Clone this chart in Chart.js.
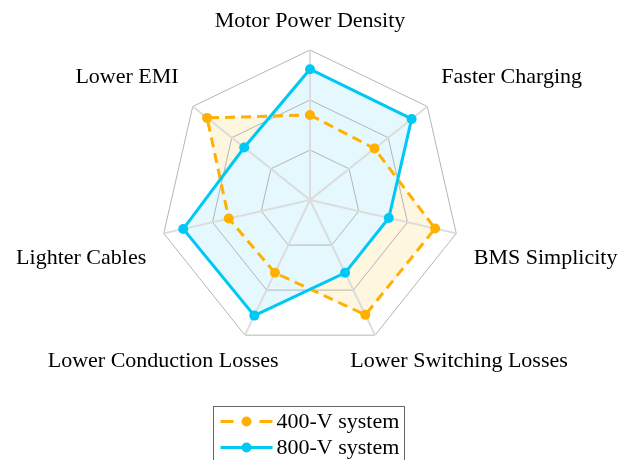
<!DOCTYPE html>
<html>
<head>
<meta charset="utf-8">
<script src="https://cdn.jsdelivr.net/npm/chart.js@4.4.0/dist/chart.umd.min.js"></script>
<style>
  html, body { margin: 0; padding: 0; background: #fff; }
</style>
</head>
<body>
<canvas id="grafico" width="626" height="460"></canvas>
<script>
// datos
var etiquetas = ['Motor Power Density', 'Faster Charging', 'BMS Simplicity',
  'Lower Switching Losses', 'Lower Conduction Losses', 'Lighter Cables', 'Lower EMI'];
var series = ['400-V system', '800-V system'];
var valores400 = [5.1, 4.95, 7.7, 7.65, 4.85, 5.0, 7.9];
var valores800 = [7.85, 7.8, 4.85, 4.85, 7.7, 7.8, 5.05];
var escalaMin = 0, escalaMax = 9, escalaPaso = 3;

var fuente = '"Liberation Serif", "Times New Roman", serif';

// etiquetas de los ejes, ancladas fuera del poligono
var etiquetasEjes = {
  id: 'etiquetasEjes',
  afterDraw: function (chart) {
    var r = chart.scales.r, ctx = chart.ctx;
    ctx.save();
    ctx.font = '22px ' + fuente;
    ctx.fillStyle = '#000';
    ctx.textBaseline = 'alphabetic';
    chart.data.labels.forEach(function (txt, i) {
      var p = r.getPointPosition(i, r.drawingArea + 18);
      var a = r.getIndexAngle(i);
      var s = Math.sin(a), c = Math.cos(a);
      var w = ctx.measureText(txt).width;
      var fx, dy;
      if (Math.abs(s) < 0.05) fx = 0.5;
      else if (c < -0.5) fx = s > 0 ? 0.15 : 0.82;
      else fx = s > 0 ? 0 : 1;
      if (c > 0.9) dy = -5;
      else if (c > 0.3) dy = -12;
      else if (c > -0.5) dy = 27;
      else dy = 16;
      ctx.fillText(txt, p.x - fx * w, p.y + dy);
    });
    ctx.restore();
  }
};

// leyenda con marco, una serie por linea
var leyenda = {
  id: 'leyenda',
  afterDraw: function (chart) {
    var ctx = chart.ctx;
    var x0 = 213.5, y0 = 406.5, ancho = 191, alto = 70;
    ctx.save();
    ctx.strokeStyle = '#666';
    ctx.lineWidth = 1;
    ctx.strokeRect(x0, y0, ancho, alto);
    ctx.font = '22px ' + fuente;
    ctx.textBaseline = 'middle';
    chart.data.datasets.forEach(function (ds, i) {
      var y = y0 + 15 + i * 26;
      ctx.strokeStyle = ds.borderColor;
      ctx.lineWidth = ds.borderWidth;
      ctx.setLineDash(ds.borderDash && ds.borderDash.length ? [13, 26] : []);
      ctx.beginPath();
      ctx.moveTo(x0 + 7, y);
      ctx.lineTo(x0 + 59, y);
      ctx.stroke();
      ctx.setLineDash([]);
      ctx.fillStyle = ds.pointBackgroundColor;
      ctx.beginPath();
      ctx.arc(x0 + 33, y, ds.pointRadius, 0, Math.PI * 2);
      ctx.fill();
      ctx.fillStyle = '#000';
      ctx.fillText(ds.label, x0 + 63, y + 1);
    });
    ctx.restore();
  }
};

var ctx1 = document.getElementById('grafico').getContext('2d');
window.myRadar = new Chart(ctx1, {
  type: 'radar',
  data: {
    labels: etiquetas,
    datasets: [{
      label: series[0],
      data: valores400,
      order: 1,
      borderColor: '#FFB000',
      backgroundColor: '#FFF6DF',
      borderWidth: 3,
      borderDash: [10, 6],
      pointRadius: 5,
      pointBorderWidth: 0,
      pointBackgroundColor: '#FFB000',
      fill: true
    }, {
      label: series[1],
      data: valores800,
      order: 0,
      borderColor: '#00C8F5',
      backgroundColor: '#E4F8FD',
      borderWidth: 3,
      pointRadius: 5,
      pointBorderWidth: 0,
      pointBackgroundColor: '#00C8F5',
      fill: true
    }]
  },
  options: {
    responsive: false,
    animation: false,
    layout: { padding: { left: 160, right: 166, top: 50, bottom: 110 } },
    plugins: {
      legend: { display: false },
      tooltip: { enabled: false },
      filler: { drawTime: 'beforeDraw' }
    },
    elements: { line: { tension: 0 } },
    scales: {
      r: {
        min: escalaMin,
        max: escalaMax,
        ticks: { display: false, stepSize: escalaPaso },
        pointLabels: { display: false },
        grid: { color: '#b5b5b5', lineWidth: 1 },
        angleLines: { color: '#dcdcdc', lineWidth: 2 }
      }
    }
  },
  plugins: [etiquetasEjes, leyenda]
});
</script>
</body>
</html>
